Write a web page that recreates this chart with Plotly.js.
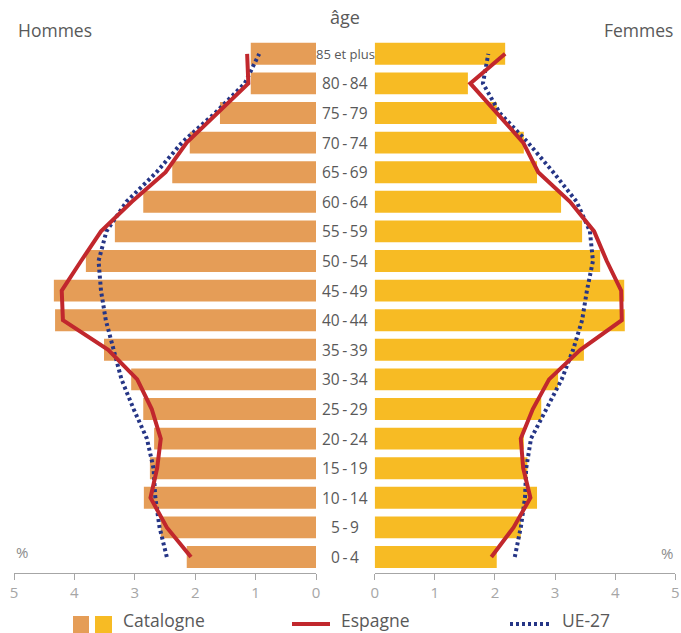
<!DOCTYPE html>
<html>
<head>
<meta charset="utf-8">
<script src="https://cdn.plot.ly/plotly-3.0.1.min.js"></script>
<style>html,body{margin:0;padding:0;background:#fff;}#chart{width:681px;height:633px;}</style>
</head>
<body>
<div id="chart"></div>
<script>
// Age groups, bottom to top
const ageGroups = ["0-4","5-9","10-14","15-19","20-24","25-29","30-34","35-39","40-44","45-49","50-54","55-59","60-64","65-69","70-74","75-79","80-84","85 et plus"];
const ageLabels = ["0\u2009-\u20094","5\u2009-\u20099","10\u2009-\u200914","15\u2009-\u200919","20\u2009-\u200924","25\u2009-\u200929","30\u2009-\u200934","35\u2009-\u200939","40\u2009-\u200944","45\u2009-\u200949","50\u2009-\u200954","55\u2009-\u200959","60\u2009-\u200964","65\u2009-\u200969","70\u2009-\u200974","75\u2009-\u200979","80\u2009-\u200984","85 et plus"];

// Hommes (%)
const catalogneHommes = [2.14,2.57,2.85,2.75,2.68,2.86,3.06,3.51,4.32,4.34,3.81,3.33,2.86,2.38,2.09,1.59,1.08,1.08];
const espagneHommes   = [2.07,2.47,2.74,2.63,2.57,2.72,2.96,3.44,4.19,4.21,3.89,3.56,3.05,2.49,2.14,1.62,1.12,1.14];
const ue27Hommes      = [2.47,2.59,2.66,2.69,2.80,3.02,3.22,3.35,3.48,3.56,3.60,3.47,3.14,2.64,2.22,1.67,1.18,0.94];

// Femmes (%)
const catalogneFemmes = [2.03,2.43,2.70,2.54,2.48,2.77,3.05,3.48,4.16,4.15,3.75,3.45,3.10,2.70,2.48,2.03,1.55,2.17];
const espagneFemmes   = [1.94,2.31,2.59,2.47,2.43,2.63,2.90,3.42,4.11,4.10,3.86,3.65,3.25,2.72,2.47,2.03,1.59,2.17];
const ue27Femmes      = [2.33,2.43,2.50,2.52,2.60,2.86,3.11,3.30,3.45,3.53,3.63,3.58,3.36,2.97,2.55,2.08,1.80,1.89];

const xTicks = [0,1,2,3,4,5];

const W = 681, H = 633;
const plotTop = 39, plotBottom = 573;
const px = x => x / W;
const py = y => (plotBottom - y) / (plotBottom - plotTop);

const cHom = "#E59D57", cFem = "#F7BB24", cRed = "#C1272D", cNavy = "#253586";
const yIdx = ageGroups.map((_, i) => i);

const traces = [
  {type:"bar", orientation:"h", x:catalogneHommes, y:yIdx, xaxis:"x", yaxis:"y", marker:{color:cHom}, showlegend:false, hoverinfo:"x"},
  {type:"bar", orientation:"h", x:catalogneFemmes, y:yIdx, xaxis:"x2", yaxis:"y", marker:{color:cFem}, showlegend:false, hoverinfo:"x"},
  {type:"scatter", mode:"lines", x:ue27Hommes, y:yIdx, xaxis:"x", yaxis:"y", line:{color:cNavy, width:4, dash:"3px,3px"}, showlegend:false},
  {type:"scatter", mode:"lines", x:ue27Femmes, y:yIdx, xaxis:"x2", yaxis:"y", line:{color:cNavy, width:4, dash:"3px,3px"}, showlegend:false},
  {type:"scatter", mode:"lines", x:espagneHommes, y:yIdx, xaxis:"x", yaxis:"y", line:{color:cRed, width:4}, showlegend:false},
  {type:"scatter", mode:"lines", x:espagneFemmes, y:yIdx, xaxis:"x2", yaxis:"y", line:{color:cRed, width:4}, showlegend:false}
];

const axisCommon = {
  showgrid:false, zeroline:false, showline:true, linecolor:"#A6A6A6", linewidth:1,
  ticks:"outside", ticklen:6, tickcolor:"#A6A6A6", tickwidth:1,
  tickvals:xTicks, ticktext:xTicks.map(String),
  tickfont:{family:"Open Sans", size:15, color:"#A6A6A6"}, fixedrange:true
};

const annotations = ageLabels.map((t, i) => ({
  text:t, x:px(345.5), xref:"paper", y:i, yref:"y", showarrow:false,
  xanchor:"center", yanchor:"middle",
  font:{family:"Open Sans", size: i === 17 ? 13 : 15.5, color:"#595959"}
}));

function txt(text, x, y, anchor, size, color) {
  return {text:text, x:px(x), y:py(y), xref:"paper", yref:"paper", showarrow:false,
    xanchor:anchor, yanchor:"middle", font:{family:"Open Sans", size:size, color:color || "#595959"}};
}
annotations.push(txt("âge", 345, 17, "center", 18));
annotations.push(txt("Hommes", 16, 30, "left", 17.5));
annotations.push(txt("Femmes", 675, 30, "right", 17.5));
annotations.push(txt("%", 14, 552, "left", 15, "#8C8C8C"));
annotations.push(txt("%", 675, 553, "right", 15, "#8C8C8C"));
annotations.push(txt("Catalogne", 121, 620, "left", 17.5));
annotations.push(txt("Espagne", 339, 620, "left", 17.5));
annotations.push(txt("UE-27", 560, 620, "left", 17.5));

const shapes = [
  {type:"rect", xref:"paper", yref:"paper", x0:px(73), x1:px(89), y0:py(633), y1:py(616), fillcolor:cHom, line:{width:0}},
  {type:"rect", xref:"paper", yref:"paper", x0:px(95), x1:px(112), y0:py(633), y1:py(616), fillcolor:cFem, line:{width:0}},
  {type:"line", xref:"paper", yref:"paper", x0:px(292), x1:px(330), y0:py(624), y1:py(624), line:{color:cRed, width:4}},
  {type:"line", xref:"paper", yref:"paper", x0:px(510), x1:px(552), y0:py(624), y1:py(624), line:{color:cNavy, width:4, dash:"3px,3px"}}
];

const layout = {
  width:W, height:H,
  margin:{l:0, r:0, t:plotTop, b:H - plotBottom, pad:0},
  paper_bgcolor:"#fff", plot_bgcolor:"#fff",
  bargap:0.26, showlegend:false,
  font:{family:"Open Sans", color:"#595959"},
  xaxis:Object.assign({}, axisCommon, {domain:[px(14), px(316)], range:[5,0], anchor:"y"}),
  xaxis2:Object.assign({}, axisCommon, {domain:[px(374.7), px(675.3)], range:[0,5], anchor:"y"}),
  yaxis:{range:[-0.54, 17.5], showgrid:false, zeroline:false, showline:false, showticklabels:false, ticks:"", fixedrange:true},
  annotations:annotations, shapes:shapes
};

Plotly.newPlot("chart", traces, layout, {displayModeBar:false, staticPlot:true});
</script>
</body>
</html>
